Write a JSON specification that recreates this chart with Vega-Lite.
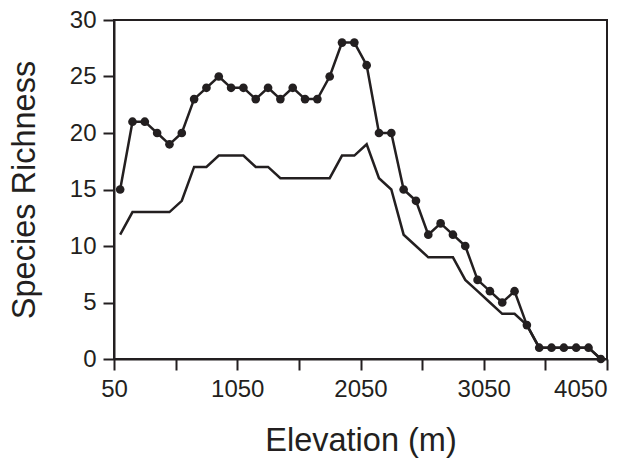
{
  "$schema": "https://vega.github.io/schema/vega-lite/v6.json",
  "width": 493,
  "height": 339,
  "autosize": "none",
  "padding": {"left": 114, "top": 20, "right": 13, "bottom": 101},
  "background": "white",
  "config": {
    "font": "Liberation Sans",
    "view": {"stroke": "#231f20", "strokeWidth": 2},
    "axis": {
      "grid": false,
      "domainColor": "#231f20",
      "domainWidth": 2,
      "tickColor": "#231f20",
      "tickWidth": 2,
      "tickSize": 11,
      "labelFont": "Liberation Sans",
      "labelFontSize": 24,
      "labelColor": "#231f20",
      "titleFont": "Liberation Sans",
      "titleFontSize": 32.5,
      "titleFontWeight": "normal",
      "titleColor": "#231f20"
    }
  },
  "data": {
    "values": [
      {"e":100,"s":"a","r":15},{"e":200,"s":"a","r":21},{"e":300,"s":"a","r":21},{"e":400,"s":"a","r":20},{"e":500,"s":"a","r":19},
      {"e":600,"s":"a","r":20},{"e":700,"s":"a","r":23},{"e":800,"s":"a","r":24},{"e":900,"s":"a","r":25},{"e":1000,"s":"a","r":24},
      {"e":1100,"s":"a","r":24},{"e":1200,"s":"a","r":23},{"e":1300,"s":"a","r":24},{"e":1400,"s":"a","r":23},{"e":1500,"s":"a","r":24},
      {"e":1600,"s":"a","r":23},{"e":1700,"s":"a","r":23},{"e":1800,"s":"a","r":25},{"e":1900,"s":"a","r":28},{"e":2000,"s":"a","r":28},
      {"e":2100,"s":"a","r":26},{"e":2200,"s":"a","r":20},{"e":2300,"s":"a","r":20},{"e":2400,"s":"a","r":15},{"e":2500,"s":"a","r":14},
      {"e":2600,"s":"a","r":11},{"e":2700,"s":"a","r":12},{"e":2800,"s":"a","r":11},{"e":2900,"s":"a","r":10},{"e":3000,"s":"a","r":7},
      {"e":3100,"s":"a","r":6},{"e":3200,"s":"a","r":5},{"e":3300,"s":"a","r":6},{"e":3400,"s":"a","r":3},{"e":3500,"s":"a","r":1},
      {"e":3600,"s":"a","r":1},{"e":3700,"s":"a","r":1},{"e":3800,"s":"a","r":1},{"e":3900,"s":"a","r":1},{"e":4000,"s":"a","r":0},
      {"e":100,"s":"b","r":11},{"e":200,"s":"b","r":13},{"e":300,"s":"b","r":13},{"e":400,"s":"b","r":13},{"e":500,"s":"b","r":13},
      {"e":600,"s":"b","r":14},{"e":700,"s":"b","r":17},{"e":800,"s":"b","r":17},{"e":900,"s":"b","r":18},{"e":1000,"s":"b","r":18},
      {"e":1100,"s":"b","r":18},{"e":1200,"s":"b","r":17},{"e":1300,"s":"b","r":17},{"e":1400,"s":"b","r":16},{"e":1500,"s":"b","r":16},
      {"e":1600,"s":"b","r":16},{"e":1700,"s":"b","r":16},{"e":1800,"s":"b","r":16},{"e":1900,"s":"b","r":18},{"e":2000,"s":"b","r":18},
      {"e":2100,"s":"b","r":19},{"e":2200,"s":"b","r":16},{"e":2300,"s":"b","r":15},{"e":2400,"s":"b","r":11},{"e":2500,"s":"b","r":10},
      {"e":2600,"s":"b","r":9},{"e":2700,"s":"b","r":9},{"e":2800,"s":"b","r":9},{"e":2900,"s":"b","r":7},{"e":3000,"s":"b","r":6},
      {"e":3100,"s":"b","r":5},{"e":3200,"s":"b","r":4},{"e":3300,"s":"b","r":4},{"e":3400,"s":"b","r":3},{"e":3500,"s":"b","r":1},
      {"e":3600,"s":"b","r":1},{"e":3700,"s":"b","r":1},{"e":3800,"s":"b","r":1},{"e":3900,"s":"b","r":1},{"e":4000,"s":"b","r":0}
    ]
  },
  "encoding": {
    "x": {
      "field": "e", "type": "quantitative",
      "scale": {"domain": [50, 4050], "nice": false, "zero": false},
      "axis": {
        "title": "Elevation (m)",
        "values": [50, 550, 1050, 1550, 2050, 2550, 3050, 3550, 4050],
        "labelExpr": "(datum.value - 50) % 1000 === 0 ? datum.label : ''",
        "labelAlign": {"expr": "datum.value === 4050 ? 'right' : 'center'"},
        "format": "d",
        "labelPadding": 7,
        "labelFlush": false,
        "labelOverlap": false,
        "titlePadding": 23
      }
    },
    "y": {
      "field": "r", "type": "quantitative",
      "scale": {"domain": [0, 30], "nice": false},
      "axis": {
        "title": "Species Richness",
        "values": [0, 5, 10, 15, 20, 25, 30],
        "labelPadding": 7,
        "titlePadding": 28
      }
    }
  },
  "layer": [
    {
      "transform": [{"filter": "datum.s === 'b'"}],
      "mark": {"type": "line", "color": "#231f20", "strokeWidth": 2.5}
    },
    {
      "transform": [{"filter": "datum.s === 'a'"}],
      "mark": {"type": "line", "color": "#231f20", "strokeWidth": 2.5}
    },
    {
      "transform": [{"filter": "datum.s === 'a'"}],
      "mark": {"type": "point", "filled": true, "color": "#231f20", "opacity": 1, "size": 75}
    }
  ]
}
